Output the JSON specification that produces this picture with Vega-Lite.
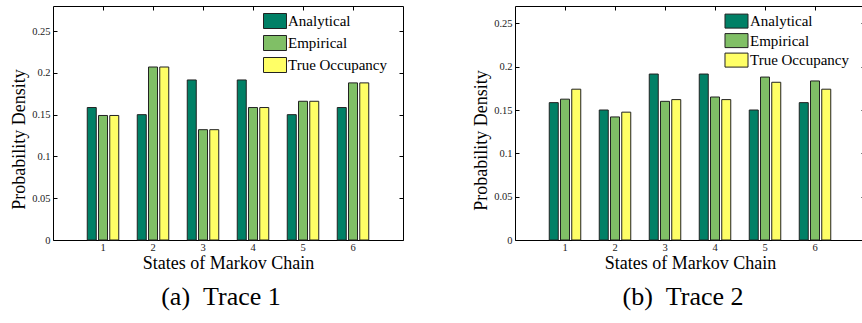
{
  "$schema": "https://vega.github.io/schema/vega-lite/v6.json",
  "padding": {"left": 10, "top": 5, "right": 0, "bottom": 0},
  "bounds": "flush",
  "spacing": 112,
  "config": {
    "font": "Liberation Serif",
    "view": {"stroke": null},
    "axis": {
      "grid": false,
      "domainColor": "#000",
      "tickColor": "#000",
      "domainWidth": 1,
      "tickWidth": 1,
      "tickSize": -4,
      "labelFont": "Liberation Serif",
      "labelFontSize": 10.5,
      "labelColor": "#222",
      "titleFont": "Liberation Serif",
      "titleFontSize": 18,
      "titleFontWeight": "normal",
      "titleColor": "#000"
    },
    "title": {"font": "Liberation Serif", "fontSize": 26, "fontWeight": "normal", "color": "#000"}
  },
  "datasets": {
    "bars": [
      {"panel": "a", "state": 1, "series": "Analytical", "value": 0.1585},
      {"panel": "a", "state": 2, "series": "Analytical", "value": 0.15},
      {"panel": "a", "state": 3, "series": "Analytical", "value": 0.1915},
      {"panel": "a", "state": 4, "series": "Analytical", "value": 0.1915},
      {"panel": "a", "state": 5, "series": "Analytical", "value": 0.15},
      {"panel": "a", "state": 6, "series": "Analytical", "value": 0.1585},
      {"panel": "a", "state": 1, "series": "Empirical", "value": 0.149},
      {"panel": "a", "state": 2, "series": "Empirical", "value": 0.207},
      {"panel": "a", "state": 3, "series": "Empirical", "value": 0.132},
      {"panel": "a", "state": 4, "series": "Empirical", "value": 0.1585},
      {"panel": "a", "state": 5, "series": "Empirical", "value": 0.166},
      {"panel": "a", "state": 6, "series": "Empirical", "value": 0.188},
      {"panel": "a", "state": 1, "series": "True Occupancy", "value": 0.149},
      {"panel": "a", "state": 2, "series": "True Occupancy", "value": 0.207},
      {"panel": "a", "state": 3, "series": "True Occupancy", "value": 0.132},
      {"panel": "a", "state": 4, "series": "True Occupancy", "value": 0.1585},
      {"panel": "a", "state": 5, "series": "True Occupancy", "value": 0.166},
      {"panel": "a", "state": 6, "series": "True Occupancy", "value": 0.188},
      {"panel": "b", "state": 1, "series": "Analytical", "value": 0.1585},
      {"panel": "b", "state": 2, "series": "Analytical", "value": 0.15},
      {"panel": "b", "state": 3, "series": "Analytical", "value": 0.1915},
      {"panel": "b", "state": 4, "series": "Analytical", "value": 0.1915},
      {"panel": "b", "state": 5, "series": "Analytical", "value": 0.15},
      {"panel": "b", "state": 6, "series": "Analytical", "value": 0.1585},
      {"panel": "b", "state": 1, "series": "Empirical", "value": 0.1625},
      {"panel": "b", "state": 2, "series": "Empirical", "value": 0.142},
      {"panel": "b", "state": 3, "series": "Empirical", "value": 0.16},
      {"panel": "b", "state": 4, "series": "Empirical", "value": 0.165},
      {"panel": "b", "state": 5, "series": "Empirical", "value": 0.188},
      {"panel": "b", "state": 6, "series": "Empirical", "value": 0.1835},
      {"panel": "b", "state": 1, "series": "True Occupancy", "value": 0.174},
      {"panel": "b", "state": 2, "series": "True Occupancy", "value": 0.1475},
      {"panel": "b", "state": 3, "series": "True Occupancy", "value": 0.162},
      {"panel": "b", "state": 4, "series": "True Occupancy", "value": 0.162},
      {"panel": "b", "state": 5, "series": "True Occupancy", "value": 0.182},
      {"panel": "b", "state": 6, "series": "True Occupancy", "value": 0.174}
    ]
  },
  "resolve": {"legend": {"color": "independent"}},
  "hconcat": [
    {
      "width": 350,
      "height": 234,
      "title": {"text": "(a)\u2002Trace 1", "orient": "bottom", "anchor": "middle", "frame": "group", "dx": -7, "offset": 12, "font": "Liberation Serif", "fontSize": 26, "fontWeight": "normal", "color": "#000"},
      "data": {"name": "bars"},
      "transform": [{"filter": "datum.panel === 'a'"}],
      "layer": [
        {
          "mark": {"type": "bar", "stroke": "#222", "strokeWidth": 1},
          "encoding": {
            "x": {"field": "state", "type": "ordinal", "scale": {"paddingInner": 0.37, "paddingOuter": 0.685},
                  "axis": {"title": "States of Markov Chain", "labelAngle": 0, "orient": "bottom", "labelPadding": 6.7, "titlePadding": 1}},
            "xOffset": {"field": "series", "type": "nominal", "scale": {"paddingInner": 0.2, "paddingOuter": 0}},
            "y": {"field": "value", "type": "quantitative", "stack": null, "scale": {"domain": [0, 0.28], "nice": false},
                  "axis": {"title": "Probability Density", "values": [0, 0.05, 0.1, 0.15, 0.2, 0.25], "format": "~g", "labelPadding": 7, "titleX": -24.5, "titleY": 133}},
            "color": {"field": "series", "type": "nominal",
                      "scale": {"domain": ["Analytical", "Empirical", "True Occupancy"], "range": ["#008066", "#80bf66", "#ffff66"]},
                      "legend": {"title": null, "orient": "none", "legendX": 214, "legendY": 7, "padding": 0,
                                 "symbolType": "M-1.533,-1L1.533,-1L1.533,1L-1.533,1Z", "symbolSize": 225,
                                 "symbolStrokeColor": "#222", "symbolStrokeWidth": 1, "symbolOpacity": 1,
                                 "labelFont": "Liberation Serif", "labelFontSize": 15, "labelColor": "#000",
                                 "labelOffset": 5, "rowPadding": 2}}
          }
        },
        {
          "mark": {"type": "bar", "opacity": 0},
          "encoding": {
            "x": {"field": "state", "type": "ordinal", "axis": {"orient": "top", "labels": false, "title": null}},
            "y": {"field": "value", "type": "quantitative", "stack": null, "axis": {"orient": "right", "labels": false, "title": null, "values": [0, 0.05, 0.1, 0.15, 0.2, 0.25]}}
          }
        }
      ],
      "resolve": {"axis": {"x": "independent", "y": "independent"}}
    },
    {
      "width": 350,
      "height": 234,
      "title": {"text": "(b)\u2002Trace 2", "orient": "bottom", "anchor": "middle", "frame": "group", "dx": -7, "offset": 12, "font": "Liberation Serif", "fontSize": 26, "fontWeight": "normal", "color": "#000"},
      "data": {"name": "bars"},
      "transform": [{"filter": "datum.panel === 'b'"}],
      "layer": [
        {
          "mark": {"type": "bar", "stroke": "#222", "strokeWidth": 1},
          "encoding": {
            "x": {"field": "state", "type": "ordinal", "scale": {"paddingInner": 0.37, "paddingOuter": 0.685},
                  "axis": {"title": "States of Markov Chain", "labelAngle": 0, "orient": "bottom", "labelPadding": 6.7, "titlePadding": 1}},
            "xOffset": {"field": "series", "type": "nominal", "scale": {"paddingInner": 0.2, "paddingOuter": 0}},
            "y": {"field": "value", "type": "quantitative", "stack": null, "scale": {"domain": [0, 0.27], "nice": false},
                  "axis": {"title": "Probability Density", "values": [0, 0.05, 0.1, 0.15, 0.2, 0.25], "format": "~g", "labelPadding": 7, "titleX": -25, "titleY": 134}},
            "color": {"field": "series", "type": "nominal",
                      "scale": {"domain": ["Analytical", "Empirical", "True Occupancy"], "range": ["#008066", "#80bf66", "#ffff66"]},
                      "legend": {"title": null, "orient": "none", "legendX": 214, "legendY": 7.6, "padding": 0,
                                 "symbolType": "M-1.643,-1L1.643,-1L1.643,1L-1.643,1Z", "symbolSize": 196,
                                 "symbolStrokeColor": "#222", "symbolStrokeWidth": 1, "symbolOpacity": 1,
                                 "labelFont": "Liberation Serif", "labelFontSize": 15, "labelColor": "#000",
                                 "labelOffset": 6, "rowPadding": 0.5}}
          }
        },
        {
          "mark": {"type": "bar", "opacity": 0},
          "encoding": {
            "x": {"field": "state", "type": "ordinal", "axis": {"orient": "top", "labels": false, "title": null}},
            "y": {"field": "value", "type": "quantitative", "stack": null, "axis": {"orient": "right", "labels": false, "title": null, "values": [0, 0.05, 0.1, 0.15, 0.2, 0.25]}}
          }
        }
      ],
      "resolve": {"axis": {"x": "independent", "y": "independent"}}
    }
  ]
}
